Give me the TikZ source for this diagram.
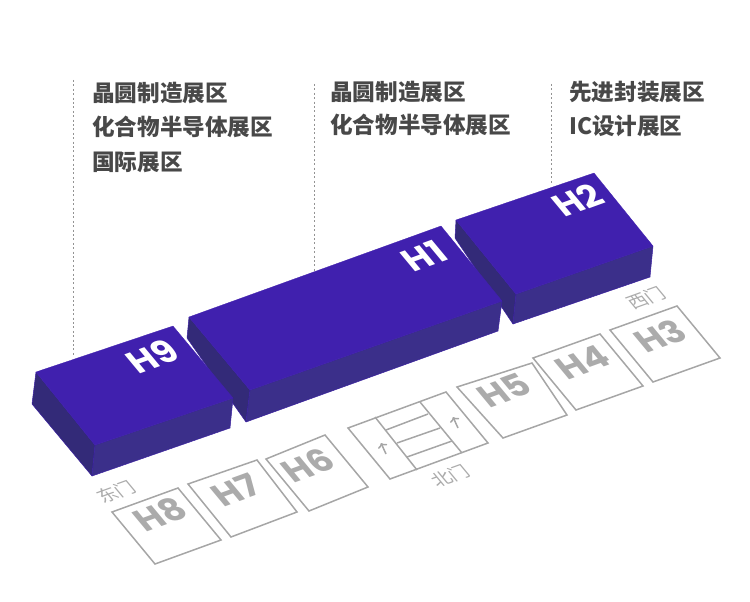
\documentclass[tikz,border=0pt]{standalone}
\usepackage{fontspec}
\usetikzlibrary{arrows.meta}
\setmainfont{Noto Sans CJK SC}
\newfontfamily\cjk{Noto Sans CJK SC}
\newfontfamily\lat{Poppins}
\definecolor{topc}{HTML}{4020AE}
\definecolor{frontc}{HTML}{3B2F8A}
\definecolor{leftc}{HTML}{332A78}
\definecolor{edgec}{HTML}{3A20A0}
\definecolor{linec}{HTML}{A6A6A6}
\definecolor{labc}{HTML}{ABABAB}
\definecolor{txtc}{HTML}{484848}
\tikzset{
 x=1pt,y=-1pt,
 topface/.style={fill=topc,draw=topc,line width=.3pt,line join=round},
 frontface/.style={fill=frontc,draw=edgec,line width=.5pt,line join=round},
 leftface/.style={fill=leftc,draw=edgec,line width=.5pt,line join=round},
 plot/.style={draw=linec,line width=1.5pt,line join=miter},
 guide/.style={draw=gray!85,line width=1pt,dash pattern=on 2pt off 2.4pt},
 caption/.style={anchor=west,inner sep=0pt,font=\cjk\bfseries\fontsize{22.6}{22.6}\selectfont,text=txtc},
 hall/.style={inner sep=0pt,transform shape,font=\lat\bfseries\fontsize{35}{35}\selectfont},
 gate/.style={inner sep=0pt,transform shape,font=\cjk\fontsize{18.5}{18.5}\selectfont,text=labc},
 flow/.style={draw=linec,line width=1.5pt,-{To[length=4.5pt,width=10pt]}},
 skewat/.style 2 args={cm={.94,.34,-.64,.77,(#1,#2)}}
}
\begin{document}
\begin{tikzpicture}
\useasboundingbox (0,0) rectangle (750,602);
% guides
\coordinate (g1a) at (73,80); \coordinate (g1b) at (73,357);
\coordinate (g2a) at (314,84); \coordinate (g2b) at (314,272);
\coordinate (g3a) at (551,84); \coordinate (g3b) at (551,185);
\draw[guide] (g1a) -- (g1b);
\draw[guide] (g2a) -- (g2b);
\draw[guide] (g3a) -- (g3b);
% captions
\node[caption] (c1) at (92,93) {晶圆制造展区};
\node[caption] (c2) at (92,127) {化合物半导体展区};
\node[caption] (c3) at (92,162) {国际展区};
\node[caption] (c4) at (330,92) {晶圆制造展区};
\node[caption] (c5) at (330,125) {化合物半导体展区};
\node[caption] (c6) at (569,92) {先进封装展区};
\node[caption] (c7) at (569,126) {IC设计展区};
% H2 block
\fill[leftface] (456,220) -- (516,294) -- (513,324) -- (455,238) -- cycle;
\fill[frontface] (516,294) -- (653,246) -- (650,277) -- (513,324) -- cycle;
\fill[topface] (456,220) -- (594,173) -- (653,246) -- (516,294) -- cycle;
% H1 block
\fill[leftface] (189,317) -- (250,390) -- (246,422) -- (187,338) -- cycle;
\fill[frontface] (250,390) -- (502,301) -- (498,331) -- (246,422) -- cycle;
\fill[topface] (189,317) -- (441,226) -- (502,301) -- (250,390) -- cycle;
% H9 block
\fill[leftface] (36,372) -- (95,445) -- (92,476) -- (32,404) -- cycle;
\fill[frontface] (95,445) -- (233,398) -- (230,428) -- (92,476) -- cycle;
\fill[topface] (36,372) -- (173,326) -- (233,398) -- (95,445) -- cycle;
% outlined halls
\draw[plot] (112,512) -- (178,488) -- (221,540) -- (155,564) -- cycle;
\draw[plot] (188,484) -- (257,460) -- (297,512) -- (231,537) -- cycle;
\draw[plot] (266,459) -- (325,435) -- (368,487) -- (309,511) -- cycle;
\draw[plot] (457,387) -- (532,363) -- (567,415) -- (503,438) -- cycle;
\draw[plot] (533,358) -- (600,334) -- (643,386) -- (576,410) -- cycle;
\draw[plot] (610,330) -- (677,306) -- (720,358) -- (653,382) -- cycle;
% north hall
\draw[plot] (348,428) -- (446,392) -- (488,443) -- (390,479) -- cycle;
\draw[plot] (375,417) -- (417,470);
\draw[plot] (420,402) -- (462,453);
\draw[plot] (386,430) -- (428,414);
\draw[plot] (397,443) -- (440,428);
\draw[plot] (407,457) -- (452,441);
\coordinate (a1s) at (386,454); \coordinate (a1e) at (381,443);
\coordinate (a2s) at (458,428); \coordinate (a2e) at (453,417);
\draw[flow] (a1s) -- (a1e);
\draw[flow] (a2s) -- (a2e);
% hall labels
\node[hall,text=white,skewat={152}{356}] (h9) at (0,0) {H9};
\node[hall,text=white,skewat={424}{256}] (h1) at (0,0) {H1};
\node[hall,text=white,skewat={578}{200}] (h2) at (0,0) {H2};
\node[hall,text=labc,skewat={160}{514}] (h8) at (0,0) {H8};
\node[hall,text=labc,skewat={236}{490}] (h7) at (0,0) {H7};
\node[hall,text=labc,skewat={308}{465}] (h6) at (0,0) {H6};
\node[hall,text=labc,skewat={504}{390}] (h5) at (0,0) {H5};
\node[hall,text=labc,skewat={583}{362}] (h4) at (0,0) {H4};
\node[hall,text=labc,skewat={660}{336}] (h3) at (0,0) {H3};
% gates
\node[gate,skewat={116}{492}] (g-e) at (0,0) {东门};
\node[gate,skewat={450}{476}] (g-n) at (0,0) {北门};
\node[gate,skewat={646}{298}] (g-w) at (0,0) {西门};
\end{tikzpicture}
\end{document}
